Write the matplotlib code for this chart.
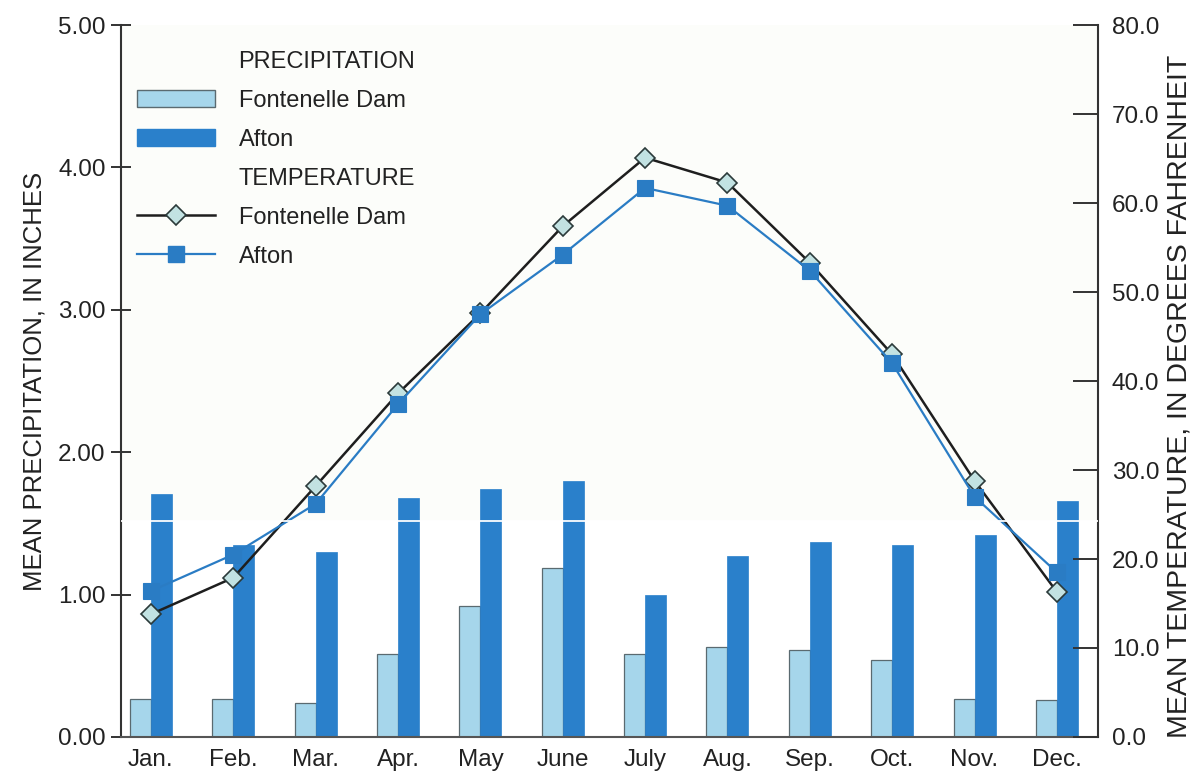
import numpy as np
import matplotlib
matplotlib.use("Agg")
import matplotlib.pyplot as plt
from matplotlib.patches import Patch
from matplotlib.lines import Line2D

plt.rcParams["font.family"] = ["Liberation Sans", "DejaVu Sans"]

# Monthly climate summary for two stations
months = ["Jan.", "Feb.", "Mar.", "Apr.", "May", "June",
          "July", "Aug.", "Sep.", "Oct.", "Nov.", "Dec."]

precip_fontenelle = [0.27, 0.27, 0.24, 0.58, 0.92, 1.19,
                     0.58, 0.63, 0.61, 0.54, 0.27, 0.26]
precip_afton = [1.71, 1.35, 1.30, 1.68, 1.74, 1.80,
                1.00, 1.27, 1.37, 1.35, 1.42, 1.66]

temp_fontenelle = [13.8, 17.9, 28.2, 38.6, 47.6, 57.4,
                   65.1, 62.3, 53.3, 43.0, 28.8, 16.3]
temp_afton = [16.4, 20.5, 26.2, 37.4, 47.5, 54.2,
              61.7, 59.7, 52.4, 42.0, 27.0, 18.5]

precip_ticks = [0.0, 1.0, 2.0, 3.0, 4.0, 5.0]
temp_ticks = [0.0, 10.0, 20.0, 30.0, 40.0, 50.0, 60.0, 70.0, 80.0]

LIGHT = "#a6d6eb"
DARK = "#2a80cb"
AFTON_LINE = "#2a7cc4"
DIAMOND_FILL = "#c2e2e2"
SPINE = "#333333"

fig = plt.figure(figsize=(11.99, 7.77), dpi=100)
ax = fig.add_axes([0.1009, 0.0515, 0.8149, 0.9162])

x = np.arange(len(months))
w = 0.255

ax.set_facecolor("white")
ax.axhspan(1.52, 5.0, color="#fcfdfa", zorder=0, lw=0)

ax.bar(x - w / 2, precip_fontenelle, width=w, color=LIGHT,
       edgecolor="#5a6a70", linewidth=0.9, zorder=2)
ax.bar(x + w / 2, precip_afton, width=w, color=DARK,
       edgecolor=DARK, linewidth=0.5, zorder=2)

ax.set_xlim(-0.364, 11.5)
ax.set_ylim(0, 5.0)
ax.set_xticks(x)
ax.set_xticklabels(months)
ax.set_yticks(precip_ticks)
ax.set_yticklabels([f"{v:.2f}" for v in precip_ticks])
ax.tick_params(axis="x", length=0, pad=9, labelsize=17.5, colors="#222222")
ax.tick_params(axis="y", direction="inout", length=14, width=1.4,
               pad=4, labelsize=17.5, colors=SPINE, labelcolor="#222222")
ax.set_ylabel("MEAN PRECIPITATION, IN INCHES", fontsize=18.5,
              color="#222222", labelpad=8)

ax.spines["top"].set_visible(False)
ax.spines["left"].set_color(SPINE)
ax.spines["left"].set_linewidth(1.5)
ax.spines["bottom"].set_color("#555555")
ax.spines["bottom"].set_linewidth(1.5)
ax.spines["right"].set_visible(False)

ax2 = ax.twinx()
ax2.set_ylim(0, 80)
ax2.set_yticks(temp_ticks)
ax2.set_yticklabels([f"{v:.1f}" for v in temp_ticks])
ax2.tick_params(axis="y", direction="in", length=18, width=1.4,
                pad=10, labelsize=17.5, colors=SPINE, labelcolor="#222222")
ax2.set_ylabel("MEAN TEMPERATURE, IN DEGREES FAHRENHEIT", fontsize=20.5,
               color="#222222", va="center")
ax2.yaxis.set_label_coords(1.0835, 0.479)
for side in ("top", "left", "bottom"):
    ax2.spines[side].set_visible(False)
ax2.spines["right"].set_color(SPINE)
ax2.spines["right"].set_linewidth(1.5)

ax2.plot(x, temp_fontenelle, color="#1e1e1e", lw=1.8, marker="D",
         ms=10, mfc=DIAMOND_FILL, mec="#2b3a3a", mew=1.2, zorder=3)
ax2.plot(x, temp_afton, color=AFTON_LINE, lw=1.6, marker="s",
         ms=11, mfc=AFTON_LINE, mec=AFTON_LINE, mew=0.8, zorder=4)

# paste seam that runs across the lower part of the plot
ax2.axhline(24.3, color="white", lw=1.4, alpha=0.9, zorder=5)

blank = Patch(facecolor="none", edgecolor="none")
handles = [
    blank,
    Patch(facecolor=LIGHT, edgecolor="#5a6a70", linewidth=1.0),
    Patch(facecolor=DARK, edgecolor=DARK),
    blank,
    Line2D([], [], color="#1e1e1e", lw=1.8, marker="D", ms=10,
           mfc=DIAMOND_FILL, mec="#2b3a3a", mew=1.2),
    Line2D([], [], color=AFTON_LINE, lw=1.6, marker="s", ms=11,
           mfc=AFTON_LINE, mec=AFTON_LINE),
]
labels = ["PRECIPITATION", "Fontenelle Dam", "Afton",
          "TEMPERATURE", "Fontenelle Dam", "Afton"]
leg = ax2.legend(handles, labels, loc="upper left",
                 bbox_to_anchor=(0.0164, 0.964), frameon=False,
                 fontsize=17, handlelength=3.3, handleheight=0.7,
                 handletextpad=1.0, labelspacing=0.72,
                 borderaxespad=0.0, borderpad=0.0)
for t in leg.get_texts():
    t.set_color("#222222")

fig.savefig("out.png", dpi=100, facecolor="white")
